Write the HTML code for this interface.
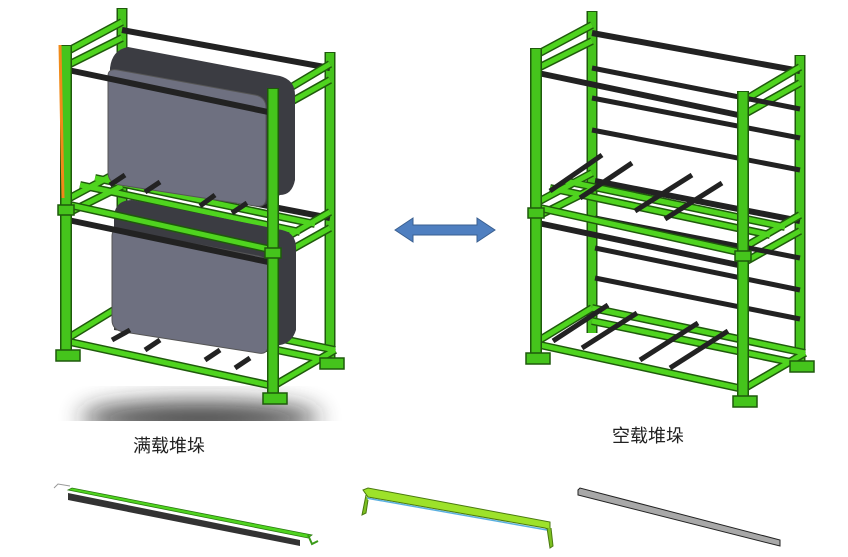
<!DOCTYPE html>
<html><head><meta charset="utf-8"><style>
html,body{margin:0;padding:0;background:#fff;width:848px;height:557px;overflow:hidden}
svg{display:block}
.t{font-family:"Liberation Sans","Noto Sans CJK SC",sans-serif;font-size:18px;fill:#222}
</style></head><body>
<svg width="848" height="557" viewBox="0 0 848 557" xmlns="http://www.w3.org/2000/svg">
<defs>
<filter id="bl" x="-50%" y="-50%" width="200%" height="200%"><feGaussianBlur stdDeviation="12"/></filter>
<clipPath id="lc"><rect x="0" y="0" width="357" height="421"/></clipPath>
<g id="rack" stroke-linecap="butt">
  <g stroke="#1f5a0c" stroke-width="11"><line x1="122" y1="8" x2="122" y2="330"/><line x1="330" y1="52" x2="330" y2="365"/></g>
  <g stroke="#45c41c" stroke-width="8"><line x1="122" y1="9" x2="122" y2="330"/><line x1="330" y1="53" x2="330" y2="365"/></g>
  <g stroke="#222" stroke-width="6"><line x1="122" y1="30" x2="330" y2="68"/><line x1="125" y1="178" x2="330" y2="218"/></g>
  <g stroke="#1f5a0c" stroke-width="8">
    <line x1="66" y1="52" x2="122" y2="22"/><line x1="66" y1="66" x2="122" y2="38"/>
    <line x1="273" y1="98" x2="330" y2="64"/><line x1="273" y1="112" x2="330" y2="80"/>
    <line x1="66" y1="200" x2="122" y2="170"/><line x1="66" y1="214" x2="122" y2="186"/>
    <line x1="273" y1="245" x2="330" y2="212"/><line x1="273" y1="260" x2="330" y2="228"/>
    <line x1="68" y1="338" x2="122" y2="305"/><line x1="275" y1="385" x2="335" y2="350"/>
    <line x1="70" y1="342" x2="273" y2="386"/><line x1="122" y1="305" x2="335" y2="350"/>
    <line x1="122" y1="318" x2="335" y2="362"/>
    <line x1="80" y1="185" x2="300" y2="232"/><line x1="95" y1="178" x2="315" y2="224"/>
  </g>
  <g stroke="#4fd41f" stroke-width="5">
    <line x1="66" y1="52" x2="122" y2="22"/><line x1="66" y1="66" x2="122" y2="38"/>
    <line x1="273" y1="98" x2="330" y2="64"/><line x1="273" y1="112" x2="330" y2="80"/>
    <line x1="66" y1="200" x2="122" y2="170"/><line x1="66" y1="214" x2="122" y2="186"/>
    <line x1="273" y1="245" x2="330" y2="212"/><line x1="273" y1="260" x2="330" y2="228"/>
    <line x1="68" y1="338" x2="122" y2="305"/><line x1="275" y1="385" x2="335" y2="350"/>
    <line x1="70" y1="342" x2="273" y2="386"/><line x1="122" y1="305" x2="335" y2="350"/>
    <line x1="122" y1="318" x2="335" y2="362"/>
    <line x1="80" y1="185" x2="300" y2="232"/><line x1="95" y1="178" x2="315" y2="224"/>
  </g>
</g>
<g id="front">
  <g stroke="#222" stroke-width="6"><line x1="68" y1="70" x2="273" y2="113"/><line x1="68" y1="220" x2="273" y2="263"/></g>
  <g stroke="#1f5a0c" stroke-width="8"><line x1="70" y1="205" x2="273" y2="250"/></g>
  <g stroke="#4fd41f" stroke-width="5"><line x1="70" y1="205" x2="273" y2="250"/></g>
  <g stroke="#1f5a0c" stroke-width="12"><line x1="66" y1="45" x2="66" y2="352"/><line x1="273" y1="88" x2="273" y2="395"/></g>
  <g stroke="#45c41c" stroke-width="9"><line x1="66" y1="46" x2="66" y2="352"/><line x1="273" y1="89" x2="273" y2="395"/></g>
  <g fill="#45c41c" stroke="#1f5a0c" stroke-width="1.5">
    <rect x="56" y="350" width="24" height="11"/><rect x="263" y="393" width="24" height="11"/>
    <rect x="320" y="358" width="24" height="11"/>
    <rect x="58" y="205" width="16" height="10"/><rect x="265" y="248" width="16" height="10"/>
  </g>
</g>
</defs>

<g clip-path="url(#lc)">
  <ellipse cx="200" cy="418" rx="120" ry="16" fill="#222" opacity="0.85" filter="url(#bl)"/>
</g>
<use href="#rack"/>
<!-- panels -->
<path d="M110 68 Q112 50 128 47 L280 76 Q295 80 295 95 L295 180 Q292 195 280 195 L265 205 L110 180 Z" fill="#3b3c42"/>
<path d="M108 76 Q108 68 118 70 L255 95 Q266 97 266 108 L266 198 Q266 208 255 206 L120 185 Q108 183 108 172 Z" fill="#6e7080" stroke="#555" stroke-width="1"/>
<path d="M114 215 Q116 200 132 200 L282 230 Q296 233 296 248 L296 330 Q292 343 280 345 L265 352 L114 330 Z" fill="#3b3c42"/>
<path d="M112 236 Q112 228 122 230 L258 256 Q268 258 268 268 L268 345 Q268 355 258 353 L124 332 Q112 330 112 320 Z" fill="#6e7080" stroke="#555" stroke-width="1"/>
<g stroke="#222" stroke-width="5">
  <line x1="110" y1="185" x2="125" y2="175"/><line x1="145" y1="192" x2="160" y2="182"/>
  <line x1="200" y1="206" x2="215" y2="195"/><line x1="232" y1="213" x2="247" y2="203"/>
  <line x1="112" y1="340" x2="130" y2="330"/><line x1="145" y1="350" x2="160" y2="340"/>
  <line x1="205" y1="360" x2="220" y2="350"/><line x1="235" y1="368" x2="250" y2="358"/>
</g>
<use href="#front"/>
<line x1="60" y1="45" x2="63" y2="198" stroke="#f08a1a" stroke-width="3"/>

<g transform="translate(470,3)">
  <use href="#rack"/>
  <g stroke="#222" stroke-width="5">
    <line x1="122" y1="65" x2="330" y2="106"/><line x1="122" y1="95" x2="330" y2="135"/><line x1="122" y1="127" x2="330" y2="167"/>
    <line x1="125" y1="215" x2="330" y2="255"/><line x1="125" y1="245" x2="330" y2="287"/><line x1="125" y1="275" x2="330" y2="316"/>
    <line x1="80" y1="188" x2="132" y2="152"/><line x1="110" y1="195" x2="162" y2="160"/>
    <line x1="165" y1="208" x2="222" y2="172"/><line x1="195" y1="216" x2="252" y2="180"/>
    <line x1="83" y1="338" x2="138" y2="302"/><line x1="112" y1="345" x2="167" y2="310"/>
    <line x1="170" y1="357" x2="228" y2="320"/><line x1="200" y1="365" x2="258" y2="328"/>
  </g>
  <use href="#front"/>
</g>

<path d="M395 230 L413 218 L413 225 L477 225 L477 218 L495 230 L477 242 L477 235 L413 235 L413 242 Z" fill="#4f7fc0" stroke="#3a5f90" stroke-width="1"/>

<text class="t" x="133" y="452">满载堆垛</text>
<text class="t" x="612" y="442">空载堆垛</text>

<path d="M54 488 L58 484 L70 486" stroke="#999" fill="none" stroke-width="1"/>
<polygon points="68,490 72,488 312,535 308,538" fill="#4fd41f" stroke="#2a7a10" stroke-width="0.8"/>
<polygon points="68,493 300,540 300,546 68,500" fill="#333"/>
<path d="M308 535 L312 544 L318 541" stroke="#3a9a18" fill="none" stroke-width="2"/>
<polygon points="363,490 368,488 550,522 550,530 545,528 368,497" fill="#9de22a" stroke="#4a7a10" stroke-width="1"/>
<line x1="366" y1="498" x2="547" y2="530" stroke="#5ab0e0" stroke-width="1.5"/>
<path d="M366 495 L362 515 L366 513 L368 500" fill="#7cc020" stroke="#4a7a10"/>
<path d="M547 528 L550 548 L553 546 L551 528" fill="#7cc020" stroke="#4a7a10"/>
<polygon points="578,490 580,488 780,540 780,546 578,495" fill="#a8a8a8" stroke="#222" stroke-width="1"/>
</svg>
</body></html>
